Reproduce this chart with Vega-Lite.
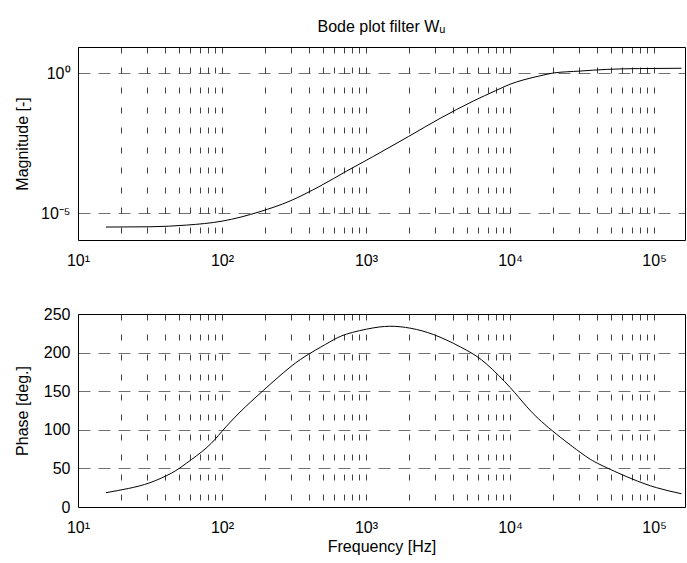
{
  "$schema": "https://vega.github.io/schema/vega-lite/v6.json",
  "padding": {"left": 13, "top": 18, "right": 2, "bottom": 5},
  "background": "#ffffff",
  "config": {
    "font": "Liberation Sans",
    "view": {"stroke": "#000000", "strokeWidth": 1},
    "axis": {
      "domain": false,
      "ticks": false,
      "grid": true,
      "gridColor": "#000000",
      "gridOpacity": 0.75,
      "gridWidth": 1,
      "labelFont": "Liberation Sans",
      "labelFontSize": 16,
      "labelColor": "#000000",
      "labelOverlap": false,
      "labelBound": false,
      "labelFlush": false,
      "titleFont": "Liberation Sans",
      "titleFontSize": 16,
      "titleFontWeight": "normal",
      "titleColor": "#000000"
    }
  },
  "datasets": {
    "magnitude": [
      {"f": 15.63, "mag": 3.162e-6},
      {"f": 31.62, "mag": 3.236e-6},
      {"f": 56.89, "mag": 3.715e-6},
      {"f": 100, "mag": 5.129e-6},
      {"f": 183.7, "mag": 1.122e-5},
      {"f": 296.5, "mag": 2.692e-5},
      {"f": 478.6, "mag": 9.12e-5},
      {"f": 734.5, "mag": 3.162e-4},
      {"f": 1122, "mag": 1.047e-3},
      {"f": 1968, "mag": 5.37e-3},
      {"f": 3266, "mag": 0.02399},
      {"f": 5559, "mag": 0.1},
      {"f": 7943, "mag": 0.2344},
      {"f": 10000, "mag": 0.3981},
      {"f": 12300, "mag": 0.5623},
      {"f": 15850, "mag": 0.7762},
      {"f": 19950, "mag": 1.0},
      {"f": 30620, "mag": 1.175},
      {"f": 46770, "mag": 1.349},
      {"f": 79430, "mag": 1.445},
      {"f": 154900, "mag": 1.479}
    ],
    "phase": [
      {"f": 15.63, "phase": 18.5},
      {"f": 22.39, "phase": 24},
      {"f": 31.62, "phase": 31.5},
      {"f": 44.67, "phase": 44},
      {"f": 56.89, "phase": 57},
      {"f": 78.34, "phase": 77},
      {"f": 100, "phase": 98},
      {"f": 133.4, "phase": 123},
      {"f": 193.6, "phase": 151},
      {"f": 296.5, "phase": 181},
      {"f": 408.3, "phase": 199},
      {"f": 562.3, "phase": 214},
      {"f": 734.5, "phase": 224},
      {"f": 1122, "phase": 232},
      {"f": 1585, "phase": 234},
      {"f": 2239, "phase": 230},
      {"f": 3266, "phase": 220},
      {"f": 5000, "phase": 203},
      {"f": 6887, "phase": 185},
      {"f": 10000, "phase": 155},
      {"f": 13060, "phase": 130},
      {"f": 18450, "phase": 103},
      {"f": 30620, "phase": 71},
      {"f": 42170, "phase": 55},
      {"f": 68080, "phase": 37.5},
      {"f": 104200, "phase": 25},
      {"f": 154900, "phase": 17.2}
    ]
  },
  "spacing": 36,
  "vconcat": [
    {
      "width": 607,
      "height": 193,
      "title": {"text": "Bode plot filter Wᵤ", "font": "Liberation Sans", "fontSize": 16, "fontWeight": "normal", "color": "#000000", "offset": 12, "anchor": "middle"},
      "data": {"name": "magnitude"},
      "mark": {"type": "line", "color": "#000000", "strokeWidth": 1, "interpolate": "monotone"},
      "encoding": {
        "x": {
          "field": "f", "type": "quantitative",
          "scale": {"type": "log", "domain": [10, 164000], "nice": false},
          "axis": {
            "title": null,
            "values": [10,20,30,40,50,60,70,80,90,100,200,300,400,500,600,700,800,900,1000,2000,3000,4000,5000,6000,7000,8000,9000,10000,20000,30000,40000,50000,60000,70000,80000,90000,100000],
            "labelExpr": "datum.value == 10 ? '10¹' : datum.value == 100 ? '10²' : datum.value == 1000 ? '10³' : datum.value == 10000 ? '10⁴' : datum.value == 100000 ? '10⁵' : ''",
            "gridDash": [6, 14],
            "labelPadding": 12
          }
        },
        "y": {
          "field": "mag", "type": "quantitative",
          "scale": {"type": "log", "domain": [1.09e-6, 8.5], "nice": false},
          "axis": {
            "title": "Magnitude [-]",
            "values": [0.00001, 0.0001, 0.001, 0.01, 0.1, 1],
            "labelExpr": "datum.value > 0.5 ? '10⁰' : (datum.value > 0.000005 && datum.value < 0.00005) ? '10⁻⁵' : ''",
            "gridOpacity": {"condition": {"test": "datum.value > 0.5 || (datum.value > 0.000005 && datum.value < 0.00005)", "value": 0.75}, "value": 0},
            "gridDash": [12, 8],
            "labelPadding": 8,
            "minExtent": 40,
            "maxExtent": 40,
            "titlePadding": 8
          }
        }
      }
    },
    {
      "width": 607,
      "height": 193,
      "data": {"name": "phase"},
      "mark": {"type": "line", "color": "#000000", "strokeWidth": 1, "interpolate": "natural"},
      "encoding": {
        "x": {
          "field": "f", "type": "quantitative",
          "scale": {"type": "log", "domain": [10, 164000], "nice": false},
          "axis": {
            "title": "Frequency [Hz]",
            "values": [10,20,30,40,50,60,70,80,90,100,200,300,400,500,600,700,800,900,1000,2000,3000,4000,5000,6000,7000,8000,9000,10000,20000,30000,40000,50000,60000,70000,80000,90000,100000],
            "labelExpr": "datum.value == 10 ? '10¹' : datum.value == 100 ? '10²' : datum.value == 1000 ? '10³' : datum.value == 10000 ? '10⁴' : datum.value == 100000 ? '10⁵' : ''",
            "gridDash": [6, 14],
            "labelPadding": 12,
            "titlePadding": 3
          }
        },
        "y": {
          "field": "phase", "type": "quantitative",
          "scale": {"domain": [0, 250], "nice": false},
          "axis": {
            "title": "Phase [deg.]",
            "values": [0, 50, 100, 150, 200, 250],
            "gridOpacity": {"condition": {"test": "datum.value > 10 && datum.value < 240", "value": 0.75}, "value": 0},
            "gridDash": [12, 8],
            "labelPadding": 8,
            "minExtent": 40,
            "maxExtent": 40,
            "titlePadding": 8
          }
        }
      }
    }
  ]
}
